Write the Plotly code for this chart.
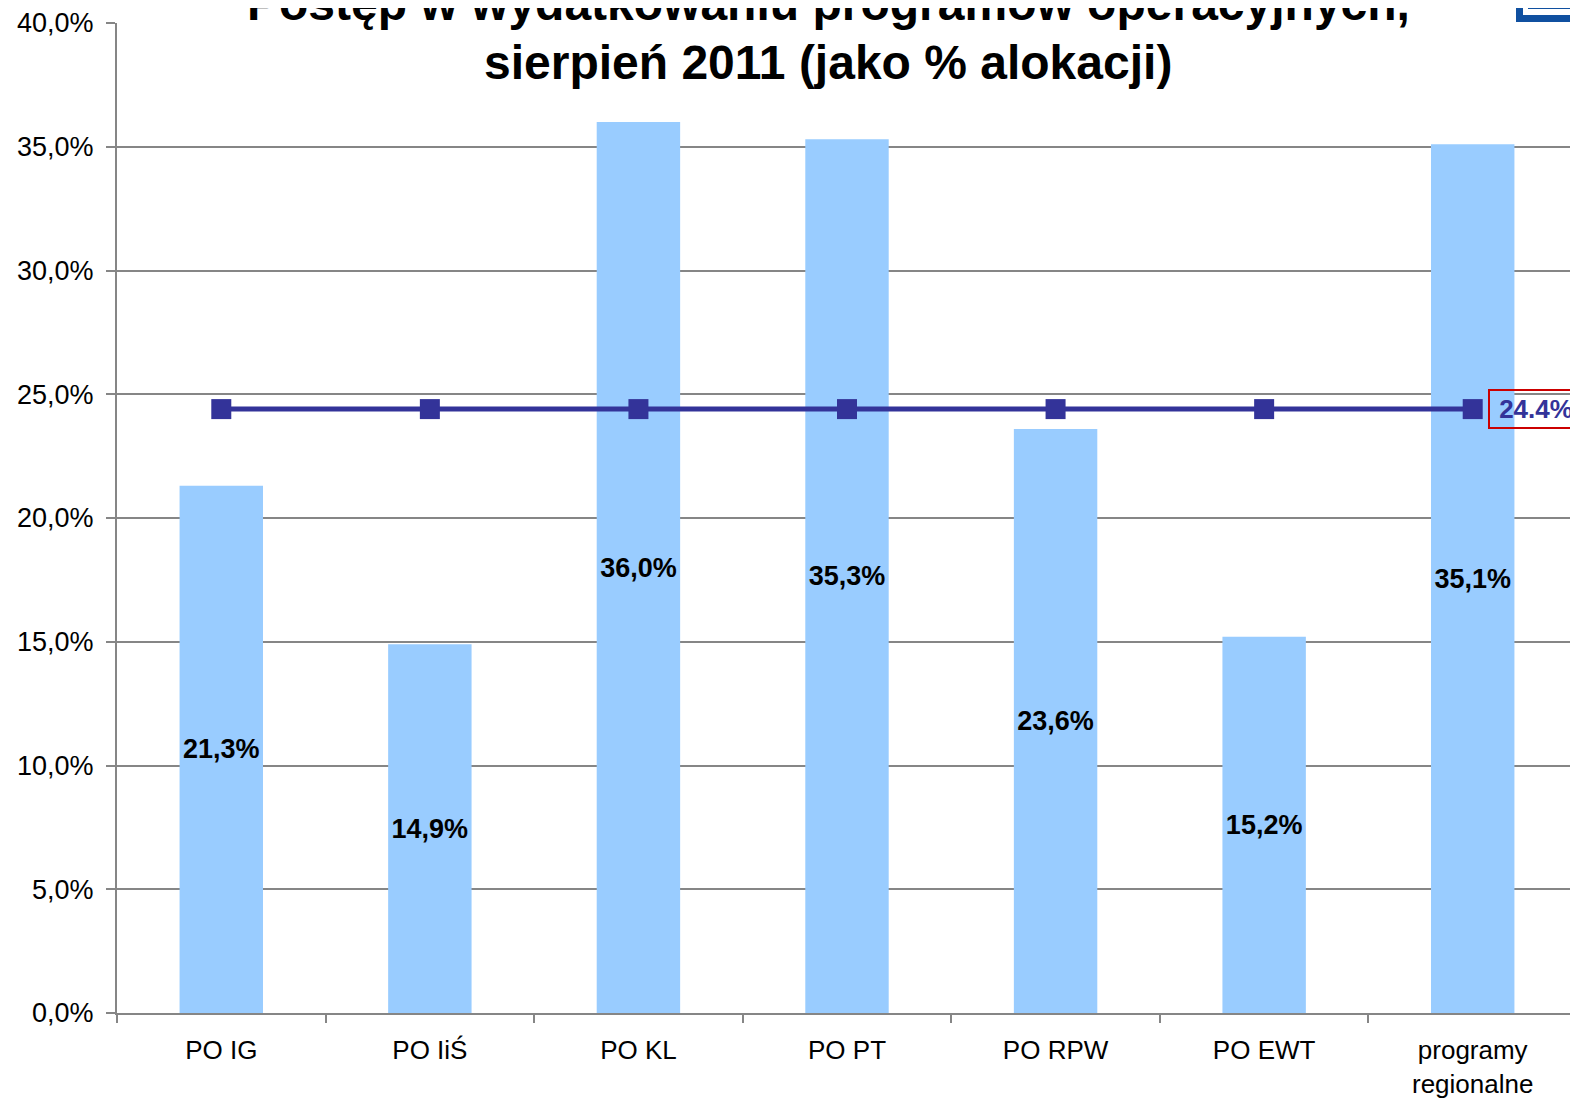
import plotly.graph_objects as go

categories = ["PO IG", "PO IiŚ", "PO KL", "PO PT", "PO RPW", "PO EWT", "programy<br>regionalne"]
spending_pct = [21.3, 14.9, 36.0, 35.3, 23.6, 15.2, 35.1]
average_pct = [24.4, 24.4, 24.4, 24.4, 24.4, 24.4, 24.4]
y_ticks = [0, 5, 10, 15, 20, 25, 30, 35, 40]
title_line1 = "Postęp w wydatkowaniu programów operacyjnych,"
title_line2 = "sierpień 2011 (jako % alokacji)"

FONT = "Liberation Sans, Arial, sans-serif"
GRID = "#868686"

# page body has an 8px margin; compensate so the figure lines up with the 1578x1099 window
OFF = 8
W, H = 1578 - OFF, 1099 - OFF
PLOT_L, PLOT_T, PLOT_R, PLOT_B = 117, 23, 1577, 1013   # plot area in window pixels
L, T = PLOT_L - OFF, PLOT_T - OFF
R, B = (OFF + W) - PLOT_R, (OFF + H) - PLOT_B
PW, PH = PLOT_R - PLOT_L, PLOT_B - PLOT_T

bar_labels = [f"{v:.1f}%".replace(".", ",") for v in spending_pct]
y_tick_text = [f"{v:.1f}%".replace(".", ",") for v in y_ticks]

fig = go.Figure()
fig.add_trace(go.Bar(
    x=categories, y=spending_pct, width=0.4,
    marker=dict(color="#99CCFF", line=dict(width=0)),
    text=bar_labels, textposition="inside", insidetextanchor="middle",
    textfont=dict(family=FONT, size=27, color="black", weight="bold"),
    textangle=0, cliponaxis=False,
))
fig.add_trace(go.Scatter(
    x=categories, y=average_pct, mode="lines+markers",
    line=dict(color="#333399", width=5),
    marker=dict(symbol="square", size=20, color="#333399"),
    cliponaxis=False,
))

fig.add_annotation(
    x=categories[-1], y=average_pct[-1], xref="x", yref="y",
    text=f"<b>{average_pct[-1]:.1f}%</b>", showarrow=False,
    xanchor="left", yanchor="middle", xshift=15,
    width=86, align="center",
    font=dict(family=FONT, size=26, color="#333399"),
    bordercolor="#CC0000", borderwidth=2, borderpad=3,
)


def py(pix):
    """convert a window pixel row to paper y"""
    return 1 - (pix - PLOT_T) / PH


def px(pix):
    return (pix - PLOT_L) / PW


# title lines
fig.add_annotation(
    x=px(828), y=py(32), xref="paper", yref="paper",
    text=f"<b>{title_line1}</b>", showarrow=False,
    xanchor="center", yanchor="bottom",
    font=dict(family=FONT, size=48, color="black"),
)
fig.add_annotation(
    x=px(828), y=py(91), xref="paper", yref="paper",
    text=f"<b>{title_line2}</b>", showarrow=False,
    xanchor="center", yanchor="bottom",
    font=dict(family=FONT, size=48, color="black"),
)

# logo fragment in the top-right corner
for x0, ybot, col in [(1516, 22, "#1050A0"), (1523, 15, "white"), (1528, 9, "#1050A0")]:
    fig.add_shape(type="rect", xref="paper", yref="paper",
                  x0=px(x0), x1=px(1590), y0=py(ybot), y1=py(-10),
                  fillcolor=col, line=dict(width=0), layer="above")

fig.update_layout(
    width=W, height=H,
    margin=dict(l=L, r=R, t=T, b=B, autoexpand=False),
    plot_bgcolor="white", paper_bgcolor="white",
    showlegend=False, bargap=0.6,
    font=dict(family=FONT, color="black"),
)
fig.update_yaxes(
    range=[0, 40], tickvals=y_ticks, ticktext=y_tick_text,
    showgrid=True, gridcolor=GRID, gridwidth=2,
    showline=True, linecolor=GRID, linewidth=2,
    ticks="outside", ticklen=9, tickcolor=GRID, tickwidth=2,
    ticklabelstandoff=7,
    tickfont=dict(family=FONT, size=27, color="black"),
    zeroline=False, automargin=False,
)
fig.update_xaxes(
    type="category", range=[-0.5, 6.5],
    showline=True, linecolor=GRID, linewidth=2,
    ticks="outside", tickson="boundaries", ticklen=8, tickcolor=GRID, tickwidth=2,
    ticklabelstandoff=13,
    tickfont=dict(family=FONT, size=26, color="black"),
    showgrid=False, automargin=False,
)

fig.write_html("out.html")
